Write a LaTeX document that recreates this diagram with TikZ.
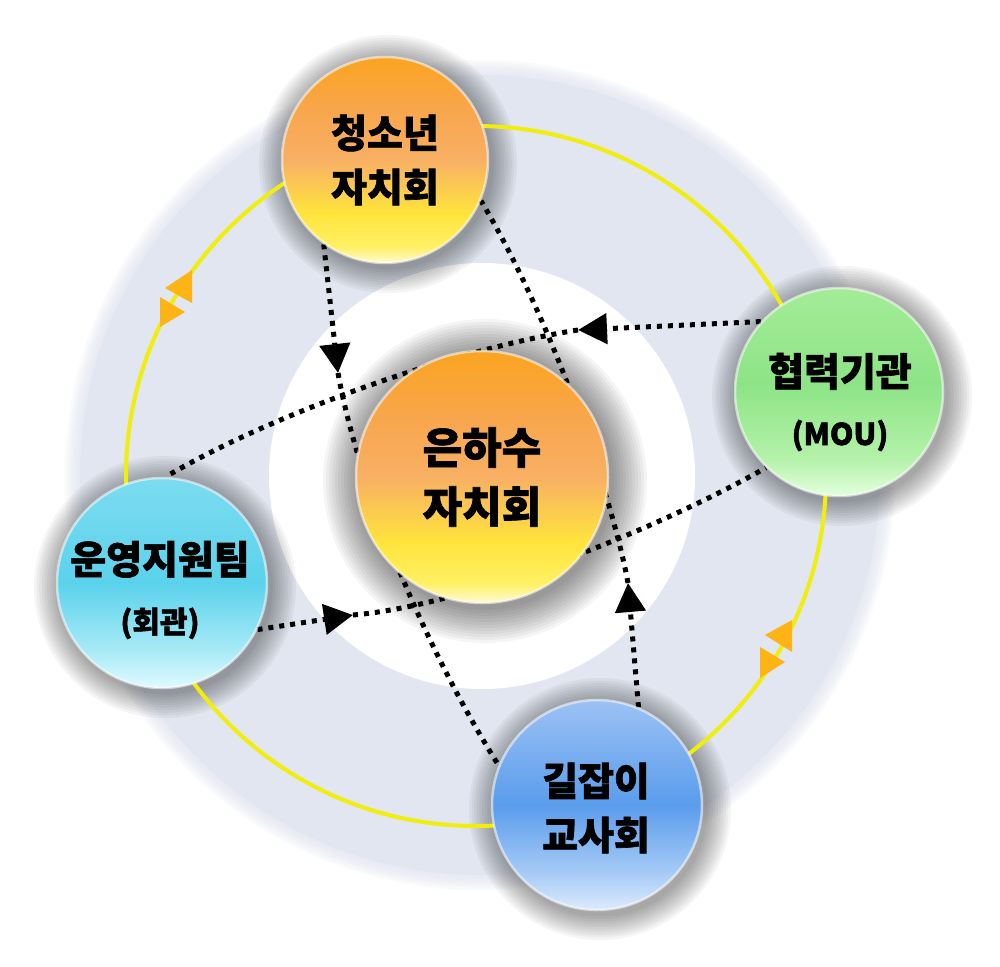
\documentclass[tikz,border=0pt]{standalone}
\usepackage{fontspec}
\newfontfamily\krfont[BoldFeatures={FakeBold=1.6}]{Noto Sans CJK KR}
\usetikzlibrary{arrows.meta}
\pgfdeclarelayer{back}
\pgfdeclarelayer{mid}
\pgfsetlayers{back,mid,main}
\definecolor{ringcol}{RGB}{225,230,240}
\definecolor{yel}{RGB}{240,238,10}
\definecolor{markor}{RGB}{253,180,20}
% orange ball
\definecolor{oA}{RGB}{255,250,212}
\definecolor{oB}{RGB}{255,240,100}
\definecolor{oC}{RGB}{255,228,60}
\definecolor{oD}{RGB}{248,176,100}
\definecolor{oE}{RGB}{248,166,76}
\definecolor{oF}{RGB}{250,164,32}
\pgfdeclareverticalshading{orangeball}{100bp}{color(0bp)=(oA); color(25bp)=(oA); color(29bp)=(oB); color(37bp)=(oC); color(50bp)=(oD); color(62bp)=(oE); color(75bp)=(oF); color(100bp)=(oF)}
% green ball
\definecolor{gA}{RGB}{228,255,222}
\definecolor{gB}{RGB}{180,242,170}
\definecolor{gC}{RGB}{141,228,134}
\definecolor{gD}{RGB}{164,236,152}
\pgfdeclareverticalshading{greenball}{100bp}{color(0bp)=(gA); color(25bp)=(gA); color(34bp)=(gB); color(52bp)=(gC); color(75bp)=(gD); color(100bp)=(gD)}
% cyan ball
\definecolor{cA}{RGB}{224,250,255}
\definecolor{cB}{RGB}{168,234,246}
\definecolor{cC}{RGB}{91,210,236}
\definecolor{cD}{RGB}{124,220,240}
\pgfdeclareverticalshading{cyanball}{100bp}{color(0bp)=(cA); color(25bp)=(cA); color(34bp)=(cB); color(50bp)=(cC); color(75bp)=(cD); color(100bp)=(cD)}
% blue ball
\definecolor{bA}{RGB}{220,235,253}
\definecolor{bB}{RGB}{166,202,246}
\definecolor{bC}{RGB}{90,156,236}
\definecolor{bD}{RGB}{156,194,244}
\pgfdeclareverticalshading{blueball}{100bp}{color(0bp)=(bA); color(25bp)=(bA); color(34bp)=(bB); color(50bp)=(bC); color(75bp)=(bD); color(100bp)=(bD)}
\begin{document}
\begin{tikzpicture}[x=1pt,y=-1pt,
  ball/.style={circle, inner sep=0pt, minimum size=#1, shade,
               draw=white, draw opacity=0.55, line width=2.5pt},
  label39/.style={align=center, text=black, font=\krfont\bfseries\fontsize{39}{54}\selectfont},
  flow/.style={line width=5pt, black, dash pattern=on 5pt off 6pt},
  arrowend/.style={-{Triangle[length=29pt,width=30pt]}},
  ringline/.style={yel, line width=4pt},
]
\useasboundingbox (0,0) rectangle (1000,966);

% circles
\node[ball=206pt, shading=orangeball] (ys) at (385,160) {};
\node[ball=208pt, shading=greenball] (hy) at (839,392) {};
\node[ball=210pt, shading=cyanball] (un) at (162,583) {};
\node[ball=210pt, shading=blueball] (gil) at (597,805) {};
\node[ball=252pt, shading=orangeball] (eun) at (482,477) {};

% texts
\node[label39] (ys-t) at (385,160) {청소년\\자치회};
\node[label39] (hy-t) at (840,402) {협력기관\\[5pt]{\fontsize{30}{36}\selectfont (MOU)}};
\node[label39] (un-t) at (160,590) {운영지원팀\\[5pt]{\fontsize{30}{36}\selectfont (회관)}};
\node[label39] (gil-t) at (596,808) {길잡이\\교사회};
\node[label39, font=\krfont\bfseries\fontsize{43}{59}\selectfont] (eun-t) at (482,477) {은하수\\자치회};

\coordinate (tA) at (338,373);
\coordinate (tB) at (628,583);
\coordinate (tC) at (578,330);
\coordinate (tD) at (353,615);

\begin{pgfonlayer}{back}
  \fill[white] (0,0) rectangle (1000,966);
  \foreach \k in {1,...,6} \fill[ringcol, opacity=0.2] (480,475) circle (400+\k*2.5);
  \fill[ringcol] (480,475) circle (400);
  \fill[white] (482,476) circle (213);
  % shadows
  \foreach \n/\r in {ys/103, hy/104, un/105, gil/105} {
    \foreach \k in {1,...,10}
      \fill[black, opacity=0.038] ([shift={(3,4)}]\n.center) circle (\r+\k*2.6);
  }
  \foreach \k in {1,...,12}
    \fill[black, opacity=0.04] ([shift={(3,4)}]eun.center) circle (126+\k*3);
  % yellow ring
  \draw[ringline] (476,476) circle (350);
  % orange marks
  \fill[markor] (192,270) -- (192,303) -- (165,288) -- cycle;
  \fill[markor] (160,297) -- (160,327) -- (185,312) -- cycle;
  \fill[markor] (792,620) -- (792,652) -- (765,635) -- cycle;
  \fill[markor] (760,647) -- (760,678) -- (785,662) -- cycle;
\end{pgfonlayer}

\begin{pgfonlayer}{mid}
  \draw[flow, arrowend] (ys.234) -- (tA);
  \draw[flow] (tA) .. controls (357,480) and (420,640) .. (gil.158);
  \draw[flow, arrowend] (gil.67) -- (tB);
  \draw[flow] (tB) .. controls (615,510) and (558,330) .. (ys.-23);
  \draw[flow, arrowend] (hy.138) -- (tC);
  \draw[flow] (tC) .. controls (450,350) and (270,415) .. (un.88);
  \draw[flow, arrowend] (un.-26) -- (tD);
  \draw[flow] (tD) .. controls (470,605) and (660,528) .. (hy.226);
\end{pgfonlayer}
\end{tikzpicture}
\end{document}
